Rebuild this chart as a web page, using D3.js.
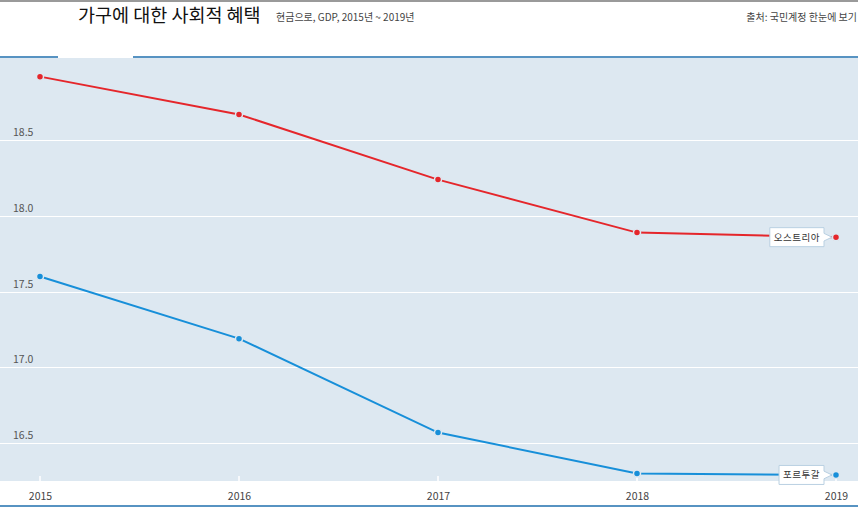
<!DOCTYPE html>
<html>
<head>
<meta charset="utf-8">
<script src="https://cdn.jsdelivr.net/npm/d3@7"></script>
<style>
  body { margin: 0; background: #fff; }
  text { font-family: "Noto Sans CJK KR", "Noto Sans", sans-serif; }
</style>
</head>
<body>
<div id="chart"></div>
<script>
// Data
const years = [2015, 2016, 2017, 2018, 2019];
const austria = [18.92, 18.67, 18.24, 17.89, 17.86];
const portugal = [17.60, 17.19, 16.57, 16.30, 16.29];
const yTicks = [16.5, 17.0, 17.5, 18.0, 18.5];
const seriesNames = ["오스트리아", "포르투갈"];

const W = 858, H = 507;
const plotTop = 58, plotBottom = 481;

const svg = d3.select("#chart")
  .append("svg")
  .attr("width", W)
  .attr("height", H);

// top grey bar
svg.append("rect").attr("x", 0).attr("y", 0).attr("width", W).attr("height", 2).attr("fill", "#9a9a9a");

// title block
svg.append("text")
  .attr("x", 78).attr("y", 22)
  .attr("font-size", 18.5).attr("fill", "#111")
  .text("가구에 대한 사회적 혜택");
svg.append("text")
  .attr("x", 276).attr("y", 21)
  .attr("font-size", 10).attr("fill", "#444")
  .text("현금으로, GDP, 2015년 ~ 2019년");
svg.append("text")
  .attr("x", 857).attr("y", 21)
  .attr("text-anchor", "end")
  .attr("font-size", 10).attr("fill", "#444")
  .text("출처: 국민계정 한눈에 보기");

// plot background
svg.append("rect")
  .attr("x", 0).attr("y", plotTop)
  .attr("width", W).attr("height", plotBottom - plotTop)
  .attr("fill", "#dde8f1");

// blue header line with tab gap
svg.append("line").attr("x1", 0).attr("x2", 58).attr("y1", 57).attr("y2", 57)
  .attr("stroke", "#1f6fae").attr("stroke-width", 1.5);
svg.append("line").attr("x1", 133).attr("x2", W).attr("y1", 57).attr("y2", 57)
  .attr("stroke", "#1f6fae").attr("stroke-width", 1.5);

// bottom blue line
svg.append("line").attr("x1", 0).attr("x2", W).attr("y1", 506).attr("y2", 506)
  .attr("stroke", "#1f6fae").attr("stroke-width", 1.5);

// scales
const x = d3.scalePoint()
  .domain(years)
  .range([40, 836]);

const y = d3.scaleLinear()
  .domain([16.25, 19.043])
  .range([plotBottom, plotTop]);

// grid
const grid = svg.append("g");
grid.selectAll("line")
  .data(yTicks)
  .enter().append("line")
  .attr("x1", 0).attr("x2", W)
  .attr("y1", d => Math.round(y(d)) + 0.5)
  .attr("y2", d => Math.round(y(d)) + 0.5)
  .attr("stroke", "#fff").attr("stroke-width", 1.2);
grid.selectAll("text")
  .data(yTicks)
  .enter().append("text")
  .attr("x", 13)
  .attr("y", d => y(d) - 4)
  .attr("font-size", 10.5).attr("fill", "#555")
  .text(d => d3.format(".1f")(d));

// x axis
const xAxis = svg.append("g")
  .attr("transform", `translate(0,${plotBottom})`)
  .call(d3.axisBottom(x).tickSize(0).tickPadding(12));
xAxis.select(".domain").remove();
xAxis.selectAll("text")
  .attr("font-size", 10.5).attr("fill", "#444")
  .attr("font-family", "\"Noto Sans\", sans-serif");
svg.append("g").selectAll("line")
  .data(years)
  .enter().append("line")
  .attr("x1", d => x(d)).attr("x2", d => x(d))
  .attr("y1", plotBottom - 5).attr("y2", plotBottom)
  .attr("stroke", "#fff").attr("stroke-width", 1.5);

// lines
const series = [
  {name: seriesNames[0], values: austria, color: "#e5262b"},
  {name: seriesNames[1], values: portugal, color: "#178fd9"}
];

const line = d3.line()
  .x((d, i) => x(years[i]))
  .y(d => y(d));

series.forEach(s => {
  svg.append("path")
    .datum(s.values)
    .attr("fill", "none")
    .attr("stroke", s.color)
    .attr("stroke-width", 2)
    .attr("d", line);
  svg.append("g").selectAll("circle")
    .data(s.values)
    .enter().append("circle")
    .attr("cx", (d, i) => x(years[i]))
    .attr("cy", d => y(d))
    .attr("r", 3.5)
    .attr("fill", s.color)
    .attr("stroke", "#dde8f1")
    .attr("stroke-width", 1.5);
});

// end labels
series.forEach(s => {
  const last = s.values[s.values.length - 1];
  const px = x(years[years.length - 1]);
  const py = y(last);
  const g = svg.append("g");
  const txt = g.append("text")
    .attr("font-size", 9.5).attr("fill", "#333")
    .attr("letter-spacing", 0.5)
    .text(s.name);
  const tw = txt.node().getComputedTextLength();
  const bw = tw + 8, bh = 19;
  const bx = px - 12 - bw, by = py - bh / 2;
  g.insert("path", "text")
    .attr("d", `M${bx},${by} h${bw} v${bh * 0.3} L${px - 4},${py} L${bx + bw},${by + bh * 0.7} v${bh * 0.3} h${-bw} Z`)
    .attr("fill", "#fff")
    .attr("stroke", "#b9d0e2")
    .attr("stroke-width", 1);
  txt.attr("x", bx + 4).attr("y", py + 3.5);
});
</script>
</body>
</html>
